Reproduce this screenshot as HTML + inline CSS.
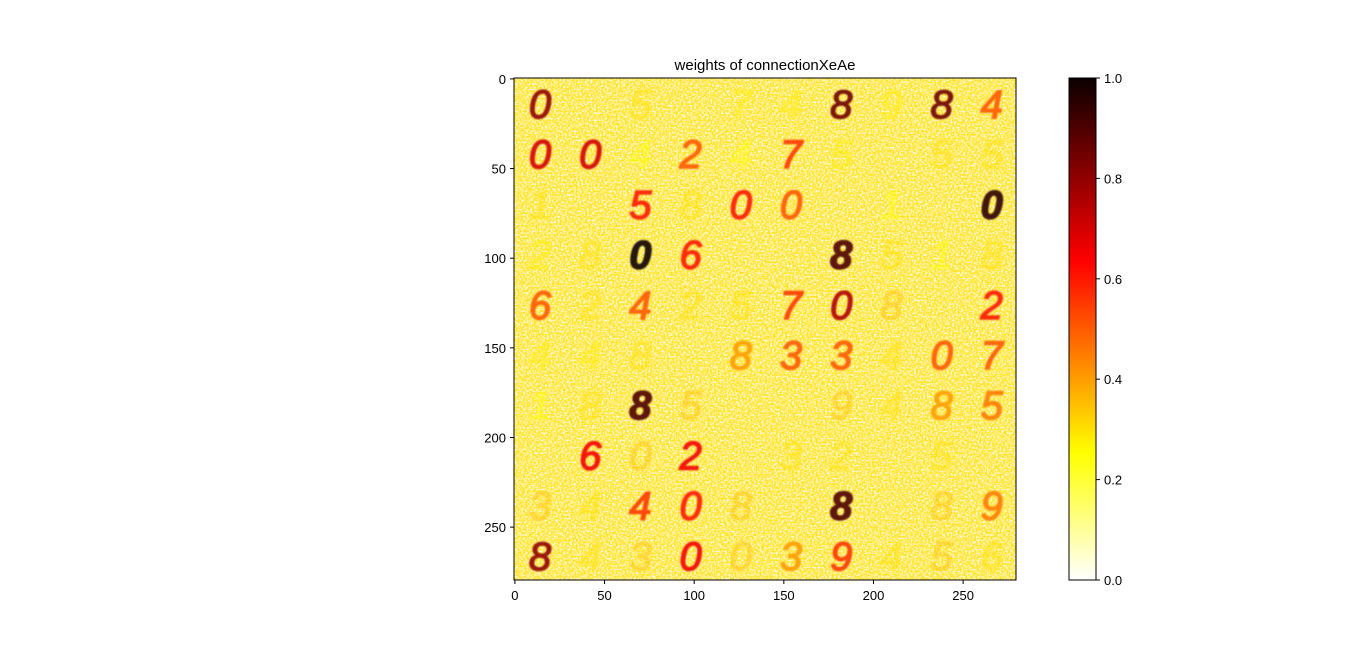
<!DOCTYPE html>
<html><head><meta charset="utf-8"><style>
body{margin:0;background:#fff;}
svg{display:block;font-family:"Liberation Sans","DejaVu Sans",sans-serif;}
</style></head><body>
<svg id="chart" width="1364" height="652">
<defs>
<filter id="noise" x="0" y="0" width="100%" height="100%">
<feTurbulence type="fractalNoise" baseFrequency="0.55" numOctaves="1" seed="3"/>
<feColorMatrix type="matrix" values="0 0 0 0 1  0 0 0 0 1  0 0 0 0 1  0 0 0 -2.6 1.6"/>
</filter>
<filter id="noise2" x="0" y="0" width="100%" height="100%">
<feTurbulence type="fractalNoise" baseFrequency="0.5" numOctaves="1" seed="11"/>
<feColorMatrix type="matrix" values="0 0 0 0 1  0 0 0 0 0.7  0 0 0 0 0  0 0 0 2.6 -1.35"/>
</filter>
<filter id="blur"><feGaussianBlur stdDeviation="0.8"/></filter>
<clipPath id="clipImg"><rect x="514" y="78" width="502" height="502"/></clipPath>
<linearGradient id="cmap" x1="0" y1="1" x2="0" y2="0">
<stop offset="0" stop-color="#ffffff"/>
<stop offset="0.254" stop-color="#ffff00"/>
<stop offset="0.635" stop-color="#ff0000"/>
<stop offset="1" stop-color="#0b0000"/>
</linearGradient>
</defs>
<text x="765" y="70" font-size="15" text-anchor="middle">weights of connectionXeAe</text>
<g clip-path="url(#clipImg)">
<rect x="514" y="78" width="502" height="502" fill="#ffe633"/>
<rect x="514" y="78" width="502" height="502" filter="url(#noise)"/>
<rect x="514" y="78" width="502" height="502" filter="url(#noise2)"/>
<g id="digits" filter="url(#blur)"></g>
</g>
<rect x="514" y="78" width="502" height="502" fill="none" stroke="#000" stroke-width="1"/>
<g id="axes"></g>
<rect x="1069" y="78" width="27" height="502" fill="url(#cmap)" stroke="#000" stroke-width="1"/>
<g id="cbticks"></g>
</svg>
<script>
const tileDigits = [
["0","","5","","7","4","8","9","8","4"],
["0","0","4","2","4","7","5","","5","5"],
["1","","5","8","0","0","","1","","0"],
["2","8","0","6","","","8","5","1","8"],
["6","2","4","2","5","7","0","8","","2"],
["4","4","8","","8","3","3","4","0","7"],
["1","8","8","5","","","9","4","8","5"],
["","6","0","2","","3","2","","5",""],
["3","4","4","0","8","","8","","8","9"],
["8","4","3","0","0","3","9","4","5","6"]
];
const tileWeights = [
[0.8,0,0.3,0,0.28,0.28,0.85,0.28,0.85,0.5],
[0.7,0.7,0.25,0.5,0.25,0.55,0.28,0,0.3,0.3],
[0.3,0,0.6,0.3,0.6,0.5,0,0.25,0,0.95],
[0.28,0.3,1.0,0.6,0,0,0.9,0.3,0.25,0.3],
[0.5,0.3,0.5,0.3,0.3,0.55,0.75,0.35,0,0.6],
[0.28,0.28,0.3,0,0.4,0.5,0.5,0.3,0.5,0.5],
[0.25,0.3,0.9,0.35,0,0,0.35,0.3,0.4,0.45],
[0,0.65,0.35,0.65,0,0.3,0.3,0,0.3,0],
[0.35,0.3,0.55,0.6,0.35,0,0.9,0,0.35,0.45],
[0.8,0.3,0.35,0.65,0.35,0.4,0.55,0.3,0.35,0.3]
];
const xTicks=[0,50,100,150,200,250];
const yTicks=[0,50,100,150,200,250];
const cbTicks=[0,0.2,0.4,0.6,0.8,1.0];
const NS="http://www.w3.org/2000/svg";
const X0=514,Y0=78,W=502,N=280;
const sx=v=>X0+0.9+v*(W/N);
const sy=v=>Y0+0.9+v*(W/N);
const cbY=v=>580-v*502;
function cmap(t){
  const stops=[[0,[255,255,255]],[0.254,[255,255,0]],[0.635,[255,0,0]],[1,[11,0,0]]];
  for(let i=1;i<stops.length;i++){if(t<=stops[i][0]){const a=stops[i-1],b=stops[i];const f=(t-a[0])/(b[0]-a[0]);
  const c=a[1].map((v,k)=>Math.round(v+(b[1][k]-v)*f));return `rgb(${c})`;}}
  return "rgb(11,0,0)";
}
const dg=document.getElementById('digits');
tileDigits.forEach((row,r)=>row.forEach((d,c)=>{
  if(!d)return;
  const w=tileWeights[r][c];
  const t=document.createElementNS(NS,'text');
  
  
  t.setAttribute('x',sx(c*28+14));t.setAttribute('y',sy(r*28+14)+14);
  t.setAttribute('text-anchor','middle');t.setAttribute('font-size','40');
  t.setAttribute('font-weight',w>0.85?'bold':'normal');t.setAttribute('font-style','italic');
  t.setAttribute('fill',cmap(w));
  t.setAttribute('stroke',cmap(w));t.setAttribute('stroke-width','1.5');
  t.setAttribute('opacity',w<0.4?0.45:0.9);
  t.textContent=d;dg.appendChild(t);
}));
const ax=document.getElementById('axes');
xTicks.forEach(v=>{
  const l=document.createElementNS(NS,'line');
  
  
  l.setAttribute('x1',sx(v));l.setAttribute('x2',sx(v));l.setAttribute('y1',580);l.setAttribute('y2',584);l.setAttribute('stroke','#000');ax.appendChild(l);
  const t=document.createElementNS(NS,'text');
  
  
  t.setAttribute('x',sx(v));t.setAttribute('y',600);t.setAttribute('text-anchor','middle');t.setAttribute('font-size','13');t.textContent=v;ax.appendChild(t);
});
yTicks.forEach(v=>{
  const l=document.createElementNS(NS,'line');
  
  
  l.setAttribute('x1',510);l.setAttribute('x2',514);l.setAttribute('y1',sy(v));l.setAttribute('y2',sy(v));l.setAttribute('stroke','#000');ax.appendChild(l);
  const t=document.createElementNS(NS,'text');
  
  
  t.setAttribute('x',506);t.setAttribute('y',sy(v)+5);t.setAttribute('text-anchor','end');t.setAttribute('font-size','13');t.textContent=v;ax.appendChild(t);
});
const cb=document.getElementById('cbticks');
cbTicks.forEach(v=>{
  const l=document.createElementNS(NS,'line');
  
  
  l.setAttribute('x1',1096);l.setAttribute('x2',1100);l.setAttribute('y1',cbY(v));l.setAttribute('y2',cbY(v));l.setAttribute('stroke','#000');cb.appendChild(l);
  const t=document.createElementNS(NS,'text');
  
  
  t.setAttribute('x',1104);t.setAttribute('y',cbY(v)+5);t.setAttribute('font-size','13');t.textContent=v.toFixed(1);cb.appendChild(t);
});
</script>
</body></html>
